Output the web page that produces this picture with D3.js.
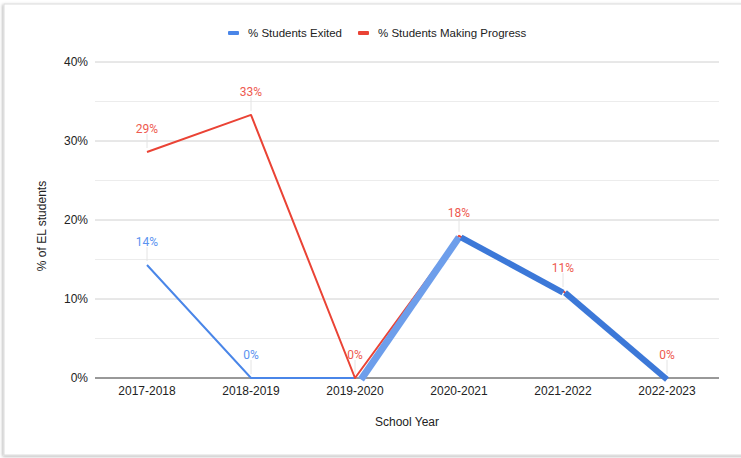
<!DOCTYPE html>
<html>
<head>
<meta charset="utf-8">
<script src="https://cdn.jsdelivr.net/npm/d3@7"></script>
<style>
  body { margin: 0; background: #fff; }
  text { font-family: "Liberation Sans", Arial, sans-serif; }
</style>
</head>
<body>
<div id="chart"></div>
<script>
// Data
const years = ["2017-2018", "2018-2019", "2019-2020", "2020-2021", "2021-2022", "2022-2023"];
const exited = [0.143, 0, 0, 0.18, 0.11, 0];
const progress = [0.286, 0.333, 0, 0.18, 0.11, 0];
const exitedLabels = ["14%", "0%", null, null, null, null];
const progressLabels = ["29%", "33%", "0%", "18%", "11%", "0%"];
const yTicks = [0, 0.1, 0.2, 0.3, 0.4];
const yMinor = [0.05, 0.15, 0.25, 0.35];

const W = 741, H = 458;
const margin = { top: 62, right: 22, bottom: 80, left: 95 },
    width = W - margin.left - margin.right,
    height = H - margin.top - margin.bottom;

const blue = "#4a86e8", red = "#ea4335";

const root = d3.select("#chart").append("svg")
    .attr("width", W)
    .attr("height", H);

// Card frame with shadow
const defs = root.append("defs");
const f = defs.append("filter").attr("id", "shadow")
    .attr("x", "-5%").attr("y", "-5%").attr("width", "110%").attr("height", "110%");
f.append("feDropShadow").attr("dx", -1).attr("dy", 1).attr("stdDeviation", 1.5)
    .attr("flood-color", "#000").attr("flood-opacity", 0.3);
root.append("rect")
    .attr("x", 4).attr("y", 4)
    .attr("width", W + 20).attr("height", 451)
    .attr("fill", "#fff")
    .attr("stroke", "#dcdcdc")
    .attr("filter", "url(#shadow)");

const svg = root.append("g")
    .attr("transform", `translate(${margin.left},${margin.top})`);

const x = d3.scaleBand().domain(years).range([0, width]);
const y = d3.scaleLinear().domain([0, 0.4]).range([height, 0]);
const cx = d => x(d) + x.bandwidth() / 2;

// Gridlines
svg.selectAll("line.minor").data(yMinor).enter().append("line")
    .attr("x1", 0).attr("x2", width)
    .attr("y1", d => y(d)).attr("y2", d => y(d))
    .attr("stroke", "#ececec");
svg.selectAll("line.major").data(yTicks.slice(1)).enter().append("line")
    .attr("x1", 0).attr("x2", width)
    .attr("y1", d => y(d)).attr("y2", d => y(d))
    .attr("stroke", "#d0d0d0");

// Y axis labels
const yAxis = svg.append("g")
    .call(d3.axisLeft(y).tickValues(yTicks).tickFormat(d3.format(".0%")).tickSize(0).tickPadding(7));
yAxis.select(".domain").remove();
yAxis.selectAll("text").style("font-size", "12px").attr("fill", "#222");

// X axis labels
const xAxis = svg.append("g")
    .attr("transform", `translate(0,${height})`)
    .call(d3.axisBottom(x).tickSize(0).tickPadding(8));
xAxis.select(".domain").remove();
xAxis.selectAll("text").style("font-size", "12px").attr("fill", "#222");

// Baseline
svg.append("line")
    .attr("x1", 0).attr("x2", width)
    .attr("y1", y(0)).attr("y2", y(0))
    .attr("stroke", "#333");

// Axis titles
svg.append("text")
    .attr("x", width / 2)
    .attr("y", height + 48)
    .attr("text-anchor", "middle")
    .style("font-size", "12px")
    .attr("fill", "#222")
    .text("School Year");
svg.append("text")
    .attr("transform", "rotate(-90)")
    .attr("x", -(226 - margin.top))
    .attr("y", -49)
    .attr("text-anchor", "middle")
    .style("font-size", "12px")
    .attr("fill", "#222")
    .text("% of EL students");

// Lines
const line = d3.line().x((d, i) => cx(years[i])).y(d => y(d));

// Thin parts of the exited series (first three points)
svg.append("path")
    .datum(exited.slice(0, 3))
    .attr("fill", "none")
    .attr("stroke", blue)
    .attr("stroke-width", 2)
    .attr("d", line);

svg.append("path")
    .datum(progress)
    .attr("fill", "none")
    .attr("stroke", red)
    .attr("stroke-width", 2)
    .attr("stroke-linejoin", "round")
    .attr("d", line);

// Thick highlighted segments of the exited series
const segs = d3.range(2, years.length - 1).map(i => ({ i, a: exited[i], b: exited[i + 1] }));
svg.selectAll("line.seg").data(segs).enter().append("line")
    .attr("x1", d => cx(years[d.i]) + (d.i === 2 ? 6 : 2))
    .attr("y1", d => y(d.a) + 1.5)
    .attr("x2", d => cx(years[d.i + 1]))
    .attr("y2", d => y(d.b) + 1.5)
    .attr("stroke", d => d.i === 2 ? "#6d9eeb" : "#3c78d8")
    .attr("stroke-width", d => d.i === 2 ? 7 : 6)
    .attr("stroke-linecap", "butt");

// Data labels with leader lines
function addLabels(values, labels, color) {
    const pts = values.map((v, i) => ({ v, i, t: labels[i] })).filter(d => d.t);
    svg.selectAll(null).data(pts).enter().append("line")
        .attr("x1", d => cx(years[d.i])).attr("x2", d => cx(years[d.i]))
        .attr("y1", d => y(d.v) - 4).attr("y2", d => y(d.v) - 18)
        .attr("stroke", "#e4e4e4");
    svg.selectAll(null).data(pts).enter().append("text")
        .attr("x", d => cx(years[d.i]))
        .attr("y", d => y(d.v) - 19)
        .attr("text-anchor", "middle")
        .style("font-family", "Roboto, sans-serif")
        .style("font-size", "12px")
        .attr("fill", color)
        .text(d => d.t);
}
addLabels(progress, progressLabels, "#ee5a4f");
addLabels(exited, exitedLabels, "#5b93f0");

// Legend
const legendItems = [
    { name: "% Students Exited", color: blue },
    { name: "% Students Making Progress", color: red }
];
const legend = root.append("g").attr("transform", "translate(228,33)");
let lx = 0;
legendItems.forEach(item => {
    const g = legend.append("g").attr("transform", `translate(${lx},0)`);
    g.append("rect").attr("x", 0).attr("y", -2).attr("width", 11).attr("height", 4)
        .attr("rx", 1).attr("fill", item.color);
    const t = g.append("text").attr("x", 20).attr("y", 4)
        .style("font-size", "11.5px").attr("fill", "#222").text(item.name);
    lx += 20 + t.node().getComputedTextLength() + 16;
});
</script>
</body>
</html>
